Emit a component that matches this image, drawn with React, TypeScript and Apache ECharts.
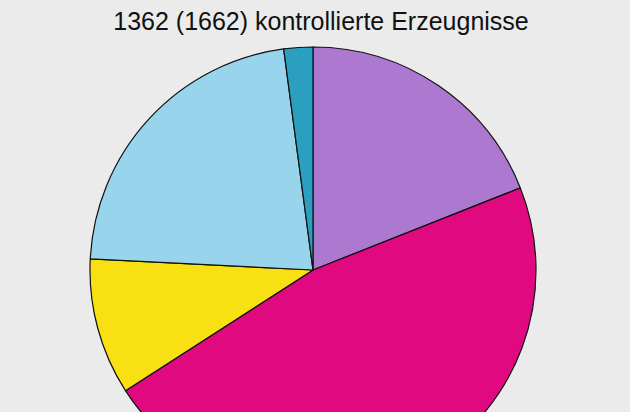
import React, { useEffect, useRef } from "react";
import * as echarts from "echarts";

const categories = ["Lila", "Magenta", "Gelb", "Hellblau", "Petrol"];
const values = [19.0, 46.9, 9.9, 22.1, 2.1];
const colors = ["#ad78d0", "#e0097f", "#f9e013", "#98d4ec", "#2b9fbf"];
const titleText = "1362 (1662) kontrollierte Erzeugnisse";

export default function App() {
  const ref = useRef<HTMLDivElement>(null);
  useEffect(() => {
    document.body.style.margin = "0";
    const chart = echarts.init(ref.current!, null, { renderer: "svg" });
    chart.setOption({
      animation: false,
      backgroundColor: "#ebebeb",
      title: {
        text: titleText,
        left: 316,
        textAlign: "center",
        top: 3,
        textStyle: {
          fontFamily: "Liberation Sans, Arial, sans-serif",
          fontSize: 25,
          fontWeight: "normal",
          color: "#111111",
        },
      },
      series: [
        {
          type: "pie",
          center: [313, 270],
          radius: 223,
          startAngle: 90,
          clockwise: true,
          label: { show: false },
          labelLine: { show: false },
          emphasis: { disabled: true },
          itemStyle: { borderColor: "#111111", borderWidth: 1.2 },
          data: categories.map((name, i) => ({
            name,
            value: values[i],
            itemStyle: { color: colors[i] },
          })),
        },
      ],
    });
    return () => chart.dispose();
  }, []);
  return <div ref={ref} style={{ width: 630, height: 412 }} />;
}
